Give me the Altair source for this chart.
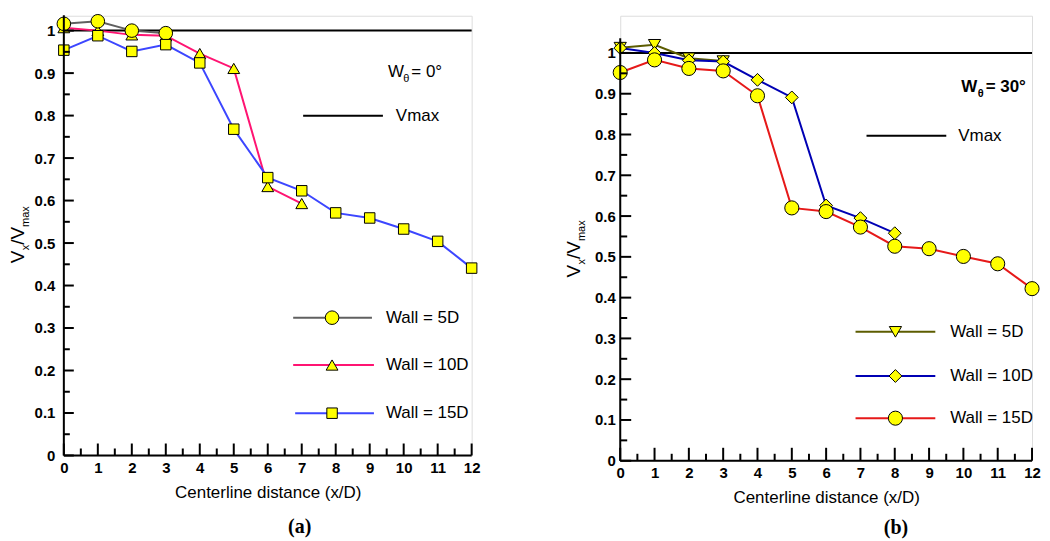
import altair as alt
import pandas as pd

# ---------------- data ----------------
# panel (a)  W_theta = 0 deg
a5_x = [0, 1, 2, 3]
a5_y = [1.016, 1.022, 1.000, 0.994]
a10_x = [0, 1, 2, 3, 4, 5, 6, 7]
a10_y = [1.007, 1.000, 0.990, 0.988, 0.946, 0.911, 0.633, 0.593]
a15_x = [0, 1, 2, 3, 4, 5, 6, 7, 8, 9, 10, 11, 12]
a15_y = [0.954, 0.988, 0.951, 0.967, 0.924, 0.768, 0.654, 0.623, 0.571, 0.559, 0.533, 0.504, 0.441]

# panel (b)  W_theta = 30 deg
b5_x = [0, 1, 2, 3]
b5_y = [1.013, 1.020, 0.987, 0.980]
b10_x = [0, 1, 2, 3, 4, 5, 6, 7, 8]
b10_y = [1.012, 1.000, 0.982, 0.979, 0.934, 0.891, 0.626, 0.595, 0.558]
b15_x = [0, 1, 2, 3, 4, 5, 6, 7, 8, 9, 10, 11, 12]
b15_y = [0.952, 0.983, 0.962, 0.956, 0.895, 0.620, 0.611, 0.573, 0.526, 0.520, 0.501, 0.483, 0.422]

vmax_x = [0, 12]
vmax_y = [1.0, 1.0]

x_major = [0, 1, 2, 3, 4, 5, 6, 7, 8, 9, 10, 11, 12]
x_minor = [0.5, 1.5, 2.5, 3.5, 4.5, 5.5, 6.5, 7.5, 8.5, 9.5, 10.5, 11.5]
y_major = [0.0, 0.1, 0.2, 0.3, 0.4, 0.5, 0.6, 0.7, 0.8, 0.9, 1.0]
y_minor = [0.05, 0.15, 0.25, 0.35, 0.45, 0.55, 0.65, 0.75, 0.85, 0.95]
y_axis_x = [0, 0]
y_axis_y = [0.0, 1.036]
x_axis_x = [0, 12]
x_axis_y = [0.0, 0.0]

FONT = "Liberation Sans"
YELLOW = "#FFFF00"
one = pd.DataFrame({"v": [0]})


def txt(s, x, y, size=17, weight="normal", angle=0, baseline="alphabetic", align="left"):
    return alt.Chart(one).mark_text(
        text=s, font=FONT, fontSize=size, fontWeight=weight, angle=angle,
        align=align, baseline=baseline, color="black"
    ).encode(x=alt.value(x), y=alt.value(y))


def panel(series, W, H, ytop, lab_pad, vleg, wth, title, title_dx, title_off, ymaj, ymin_len, xmaj):
    xs = alt.Scale(domain=[0, 12], nice=False, zero=False)
    ys = alt.Scale(domain=[0, ytop], nice=False, zero=False)
    x_enc = alt.X("x:Q", scale=xs, axis=alt.Axis(
        values=x_major, format="d", ticks=False, grid=False, domain=False, labelFlush=False,
        labelOverlap=False, labelPadding=5, labelFontSize=15, labelFontWeight="bold",
        title="Centerline distance (x/D)", titleFontSize=17, titleFontWeight="normal",
        titlePadding=9, zindex=1))
    y_enc = alt.Y("y:Q", scale=ys, title=None, axis=alt.Axis(
        values=y_major, format=".1~f", ticks=False, grid=False, labelOverlap=False,
        labelPadding=lab_pad, labelFontSize=15, labelFontWeight="bold",
        domain=False, zindex=1))

    layers = []
    layers.append(alt.Chart(pd.DataFrame({"x": vmax_x, "y": vmax_y})).mark_line(
        color="black", strokeWidth=2).encode(x=x_enc, y=y_enc))
    for s in series:
        df = pd.DataFrame({"x": s["x"], "y": s["y"]})
        layers.append(alt.Chart(df).mark_line(color=s["color"], strokeWidth=2).encode(x=x_enc, y=y_enc))
        layers.append(alt.Chart(df).mark_point(
            shape=s["shape"], size=s["size"], filled=True, fill=YELLOW, stroke="black",
            strokeWidth=1, opacity=1).encode(x=x_enc, y=y_enc))

    # axis lines: y ends just above 1, x along the bottom
    layers.append(alt.Chart(pd.DataFrame({"x": y_axis_x, "y": y_axis_y})).mark_line(
        color="black", strokeWidth=2).encode(x=x_enc, y=y_enc))
    layers.append(alt.Chart(pd.DataFrame({"x": x_axis_x, "y": x_axis_y})).mark_line(
        color="black", strokeWidth=2).encode(x=x_enc, y=y_enc))

    # inward ticks
    layers.append(alt.Chart(pd.DataFrame({"x": x_major})).mark_rule(color="black", strokeWidth=2)
                  .encode(x=x_enc, y=alt.value(H), y2=alt.value(H - xmaj)))
    layers.append(alt.Chart(pd.DataFrame({"x": x_minor})).mark_rule(color="black", strokeWidth=2)
                  .encode(x=x_enc, y=alt.value(H), y2=alt.value(H - 7)))
    layers.append(alt.Chart(pd.DataFrame({"y": y_major})).mark_rule(color="black", strokeWidth=2)
                  .encode(y=y_enc, x=alt.value(0), x2=alt.value(ymaj)))
    layers.append(alt.Chart(pd.DataFrame({"y": y_minor})).mark_rule(color="black", strokeWidth=2)
                  .encode(y=y_enc, x=alt.value(0), x2=alt.value(ymin_len)))

    # legend
    for s in series:
        lx1, lx2, mx, tx, ly = s["leg"]
        layers.append(alt.Chart(one).mark_rule(color=s["color"], strokeWidth=2)
                      .encode(x=alt.value(lx1), x2=alt.value(lx2), y=alt.value(ly)))
        layers.append(alt.Chart(one).mark_point(
            shape=s["shape"], size=s["size"], filled=True, fill=YELLOW, stroke="black",
            strokeWidth=1, opacity=1).encode(x=alt.value(mx), y=alt.value(ly)))
        layers.append(txt(s["name"], tx, ly, baseline="middle"))
    vx1, vx2, vtx, vy = vleg
    layers.append(alt.Chart(one).mark_rule(color="black", strokeWidth=2)
                  .encode(x=alt.value(vx1), x2=alt.value(vx2), y=alt.value(vy)))
    layers.append(txt("Vmax", vtx, vy, baseline="middle"))

    # W_theta annotation
    wx, wy, weight, rest, wwid = wth
    layers.append(txt("W", wx, wy, weight=weight))
    layers.append(txt("\u03b8", wx + wwid, wy + 5, size=11, weight=weight))
    layers.append(txt(rest, wx + wwid + 8, wy, weight=weight))

    # y title  V_x / V_max (rotated), centred on the drawn axis
    y_axis_len = H * y_axis_y[1] / ytop
    cy = H - y_axis_len / 2 + 28
    layers.append(txt("V", -40, cy, size=19, angle=270))
    layers.append(txt("x", -35, cy - 13, size=11, angle=270))
    layers.append(txt("/V", -40, cy - 18.5, size=19, angle=270))
    layers.append(txt("max", -35, cy - 36.5, size=11, angle=270))

    return alt.layer(*layers).properties(
        width=W, height=H,
        title=alt.TitleParams(title, orient="bottom", anchor="middle", dx=title_dx,
                              offset=title_off, font="Liberation Serif", fontSize=20,
                              fontWeight="bold", color="black"))


left = panel(
    series=[
        dict(x=a10_x, y=a10_y, color="#FF1472", shape="triangle-up", size=140,
             name="Wall = 10D", leg=(230, 311, 269, 323, 350.3)),
        dict(x=a5_x, y=a5_y, color="#606060", shape="circle", size=185,
             name="Wall = 5D", leg=(230, 309, 269, 323, 302.8)),
        dict(x=a15_x, y=a15_y, color="#3C46FF", shape="square", size=110,
             name="Wall = 15D", leg=(232, 311, 269, 323, 398.6)),
    ],
    W=409, H=441, ytop=1.035, lab_pad=9,
    vleg=(240, 320, 333, 100.3),
    wth=(325, 61.3, "normal", "= 0\u00b0", 15.5),
    title="(a)", title_dx=32, title_off=17, ymaj=10, ymin_len=6, xmaj=12,
)

right = panel(
    series=[
        dict(x=b5_x, y=b5_y, color="#5C5C00", shape="triangle-down", size=150,
             name="Wall = 5D", leg=(236, 316, 276, 331, 317)),
        dict(x=b10_x, y=b10_y, color="#0000B4", shape="diamond", size=165,
             name="Wall = 10D", leg=(236, 316, 276, 331, 361.3)),
        dict(x=b15_x, y=b15_y, color="#E61919", shape="circle", size=200,
             name="Wall = 15D", leg=(236, 316, 276, 331, 403.6)),
    ],
    W=413, H=446.3, ytop=1.0912, lab_pad=5,
    vleg=(247, 327, 339, 120.3),
    wth=(342, 76.3, "bold", "= 30\u00b0", 16.5),
    title="(b)", title_dx=70, title_off=12, ymaj=11, ymin_len=7, xmaj=13,
)

chart = alt.hconcat(left, right, spacing=84).properties(
    padding={"left": 0, "top": 2, "right": 0, "bottom": 0}
).configure_view(strokeWidth=0, stroke="transparent").configure_axis(
    labelFont=FONT, titleFont=FONT, labelColor="black", titleColor="black",
    domain=False
).configure(font=FONT)

chart.save("out.html", embed_options={"renderer": "svg", "actions": False})
